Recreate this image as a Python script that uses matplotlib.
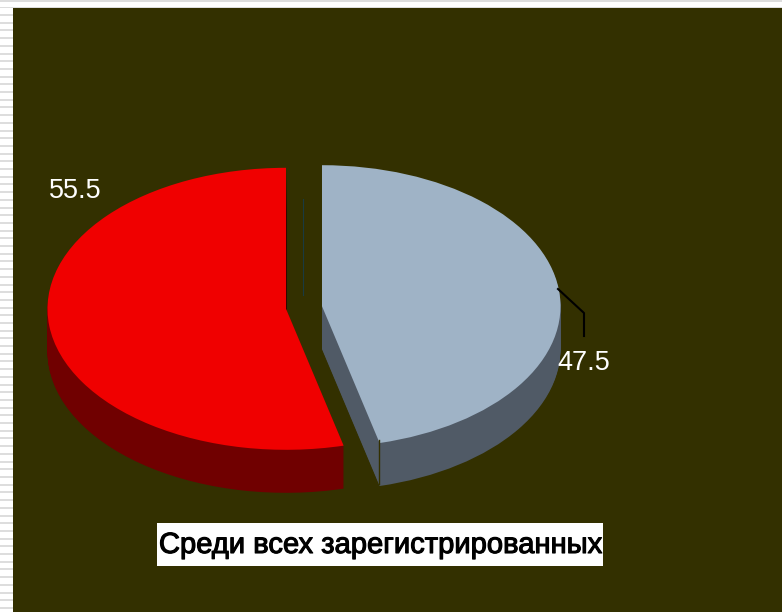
#!/usr/bin/env python3
# -*- coding: utf-8 -*-

import numpy as np
import matplotlib
matplotlib.use('Agg')
import matplotlib.pyplot as plt
import matplotlib.patheffects as pe
from matplotlib.patches import Rectangle
from matplotlib.transforms import Affine2D

# Datos
values = [47.5, 55.5]
value_labels = ['47.5', '55.5']
title_text = 'Среди всех зарегистрированных'

top_colors = ['#9FB3C6', '#F00000']
side_colors = ['#505A66', '#700000']
panel_color = '#333000'
stripe_color = '#DDDDDD'

W, H = 782, 612
DPI = 100

# Pie geometry, in pixels
cx, cy = 304, 307.5
rx, ry = 238.5, 141
depth = 43

fig = plt.figure(figsize=(W / DPI, H / DPI), dpi=DPI, facecolor='white')
ax = fig.add_axes([0, 0, 1, 1])

# Pixel coordinates with the origin at the top left
px = Affine2D().scale(1, -1).translate(0, H)

# Background panel and the striped slide border
ax.add_patch(Rectangle((13, 8), W - 13, H - 8, color=panel_color, lw=0, transform=px, zorder=0))
ax.add_patch(Rectangle((0, 0), W, 2, color=stripe_color, lw=0, transform=px, zorder=0))
ax.add_patch(Rectangle((0, 6.7), W, 1.3, color=stripe_color, lw=0, transform=px, zorder=0))
for y in np.arange(14, H, 7.7):
    ax.add_patch(Rectangle((0, y), 13, 2, color=stripe_color, lw=0, transform=px, zorder=0))

# Extruded side: the same pie repeated downwards, then the top face
explode = (0.076, 0.076)
for d in np.arange(depth, 0, -1):
    ax.pie(values, colors=side_colors, startangle=90, counterclock=False,
           explode=explode, center=(0, -d / ry), radius=1)
ax.pie(values, colors=top_colors, startangle=90, counterclock=False,
       explode=explode, center=(0, 0), radius=1)

# One data unit is rx pixels across and ry pixels down
ax.set_aspect('auto')
ax.set_xlim(-cx / rx, (W - cx) / rx)
ax.set_ylim(-(H - cy) / ry, cy / ry)

# Small marks on the chart
ax.plot([303, 303], [199, 295], color='#1A3A40', lw=0.8, transform=px, zorder=3)
ax.plot([379, 379], [440, 484], color='#333000', lw=1.0, transform=px, zorder=3)
ax.plot([558, 584, 584], [289, 313, 336], color='black', lw=1.5, transform=px, zorder=3)

# Value labels
ax.text(584, 363, value_labels[0], color='white', fontsize=19.5, family='Liberation Sans',
        ha='center', va='center', transform=px, zorder=4)
ax.text(75.5, 191, value_labels[1], color='white', fontsize=19.5, family='Liberation Sans',
        ha='center', va='center', transform=px, zorder=4)

# Caption on a white strip
ax.add_patch(Rectangle((157, 523), 446, 43, color='white', lw=0, transform=px, zorder=3))
ax.text(380.5, 545, title_text, color='black', fontsize=21, family='Liberation Sans',
        ha='center', va='center', transform=px, zorder=4,
        path_effects=[pe.withStroke(linewidth=0.8, foreground='black')])

fig.savefig('out.png', dpi=DPI)
